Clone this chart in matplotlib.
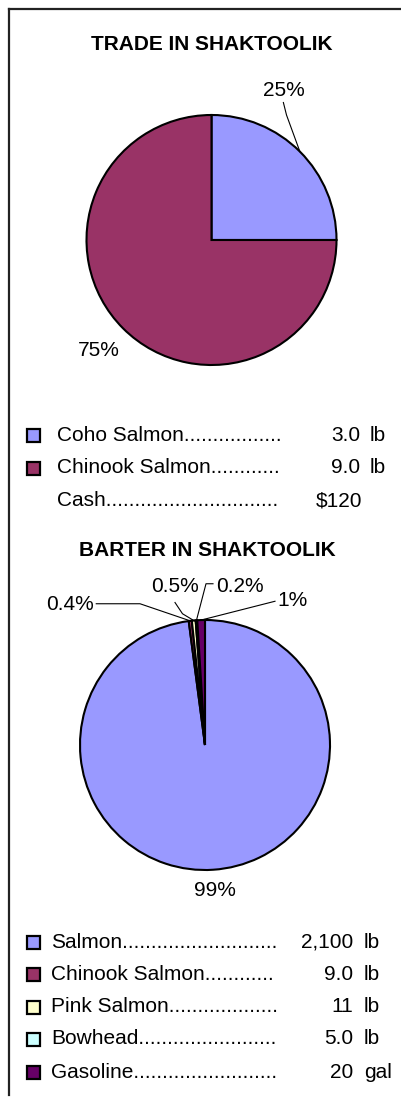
import matplotlib
matplotlib.use("Agg")
import matplotlib.pyplot as plt
from matplotlib.lines import Line2D
from matplotlib.patches import Rectangle
import numpy as np

plt.rcParams['font.family'] = ['Liberation Sans', 'DejaVu Sans']

# ---------------- data ----------------
trade_title = "TRADE IN SHAKTOOLIK"
trade_items = ["Coho Salmon", "Chinook Salmon"]
trade_values = [3.0, 9.0]
trade_pct_labels = ["25%", "75%"]
trade_colors = ["#9999FF", "#993366"]
trade_amounts = ["3.0", "9.0"]
trade_units = ["lb", "lb"]
cash_label = "Cash"
cash_amount = "$120"

barter_title = "BARTER IN SHAKTOOLIK"
barter_items = ["Salmon", "Chinook Salmon", "Pink Salmon", "Bowhead", "Gasoline"]
barter_shares = [99, 0.4, 0.5, 0.2, 1]
barter_pct_labels = ["99%", "0.4%", "0.5%", "0.2%", "1%"]
barter_colors = ["#9999FF", "#993366", "#FFFFCC", "#CCFFFF", "#660066"]
barter_amounts = ["2,100", "9.0", "11", "5.0", "20"]
barter_units = ["lb", "lb", "lb", "lb", "gal"]

W, H = 402, 1097
DPI = 100
fig = plt.figure(figsize=(W / DPI, H / DPI), dpi=DPI)
fig.patch.set_facecolor("white")


def fx(x):
    return x / W


def fy(y):
    return 1 - y / H


FS = 15
TFS = 15

# border
fig.add_artist(Line2D([fx(9), fx(9)], [fy(9), fy(1095)], color="#222222", lw=1.6))
fig.add_artist(Line2D([fx(9), fx(402)], [fy(9), fy(9)], color="#222222", lw=1.6))


def make_pie(cx, cy, r, values, colors):
    ax = fig.add_axes([fx(cx - r), fy(cy + r), (2 * r) / W, (2 * r) / H])
    wedges, _ = ax.pie(values, colors=colors, startangle=90, counterclock=False,
                       wedgeprops=dict(edgecolor="black", linewidth=1.5),
                       radius=1)
    ax.set_xlim(-1, 1)
    ax.set_ylim(-1, 1)
    ax.set_aspect("auto")
    ax.axis("off")
    return ax, wedges, r


def edge_pt(w, frac=1.0):
    ang = np.deg2rad((w.theta1 + w.theta2) / 2)
    return frac * np.cos(ang), frac * np.sin(ang)


# ---------------- pie 1 ----------------
fig.text(fx(211.5), fy(45), trade_title, ha="center", va="center",
         fontsize=TFS, fontweight="bold")
ax1, w1, r1 = make_pie(211.5, 240, 125, trade_values, trade_colors)

# 25% label with leader
ex, ey = edge_pt(w1[0])
tx, ty = 0.58, 1.2
ax1.text(tx, ty, trade_pct_labels[0], ha="center", va="center", fontsize=FS, clip_on=False)
ax1.add_line(Line2D([0.575, 0.60, ex], [1.10, 1.0, ey], color="black", lw=0.8, clip_on=False))
# 75% label
ax1.text(-0.9, -0.88, trade_pct_labels[1], ha="center", va="center", fontsize=FS, clip_on=False)

# legend 1
leg1_rows = [435, 468, 501]
trade_dots = [17, 12, 30]
for i, name in enumerate(trade_items):
    y = leg1_rows[i]
    fig.add_artist(Rectangle((fx(27), fy(y + 6.5)), 13 / W, 13 / H, facecolor=trade_colors[i],
                             edgecolor="black", lw=1.6, transform=fig.transFigure))
    fig.text(fx(57), fy(y), name + "." * trade_dots[i], ha="left", va="center", fontsize=FS)
    fig.text(fx(360), fy(y), trade_amounts[i], ha="right", va="center", fontsize=FS)
    fig.text(fx(370), fy(y), trade_units[i], ha="left", va="center", fontsize=FS)
fig.text(fx(57), fy(leg1_rows[2]), cash_label + "." * trade_dots[2], ha="left", va="center", fontsize=FS)
fig.text(fx(362), fy(leg1_rows[2]), cash_amount, ha="right", va="center", fontsize=FS)

# ---------------- pie 2 ----------------
fig.text(fx(207), fy(551), barter_title, ha="center", va="center",
         fontsize=TFS, fontweight="bold")
ax2, w2, r2 = make_pie(205, 745, 125, barter_shares, barter_colors)

# 99%
ax2.text(0.08, -1.16, barter_pct_labels[0], ha="center", va="center", fontsize=FS, clip_on=False)
# 0.4%
ex, ey = edge_pt(w2[1])
ax2.text(-1.08, 1.12, barter_pct_labels[1], ha="center", va="center", fontsize=FS, clip_on=False)
ax2.add_line(Line2D([-0.87, -0.52, ex], [1.13, 1.13, ey], color="black", lw=0.8, clip_on=False))
# 0.5%
ex, ey = edge_pt(w2[2])
ax2.text(-0.24, 1.27, barter_pct_labels[2], ha="center", va="center", fontsize=FS, clip_on=False)
ax2.add_line(Line2D([-0.24, -0.18, ex], [1.14, 1.05, ey], color="black", lw=0.8, clip_on=False))
# 0.2%
ex, ey = edge_pt(w2[3])
ax2.text(0.28, 1.27, barter_pct_labels[3], ha="center", va="center", fontsize=FS, clip_on=False)
ax2.add_line(Line2D([0.064, 0.008, ex], [1.29, 1.29, ey], color="black", lw=0.8, clip_on=False))
# 1%
ex, ey = edge_pt(w2[4])
ax2.text(0.70, 1.16, barter_pct_labels[4], ha="center", va="center", fontsize=FS, clip_on=False)
ax2.add_line(Line2D([0.56, ex], [1.15, ey], color="black", lw=0.8, clip_on=False))

# legend 2
leg2_rows = [942, 974, 1007, 1039, 1072]
barter_dots = [27, 12, 19, 24, 25]
for i, name in enumerate(barter_items):
    y = leg2_rows[i]
    fig.add_artist(Rectangle((fx(27), fy(y + 6.5)), 13 / W, 13 / H, facecolor=barter_colors[i],
                             edgecolor="black", lw=1.6, transform=fig.transFigure))
    fig.text(fx(51), fy(y), name + "." * barter_dots[i], ha="left", va="center", fontsize=FS)
    fig.text(fx(353), fy(y), barter_amounts[i], ha="right", va="center", fontsize=FS)
    fig.text(fx(364), fy(y), barter_units[i], ha="left", va="center", fontsize=FS)

fig.savefig("out.png", dpi=DPI, facecolor="white")
